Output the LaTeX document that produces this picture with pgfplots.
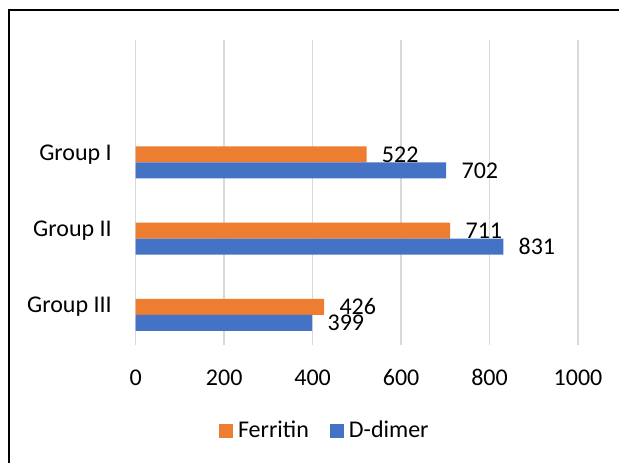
\documentclass[border=0pt]{standalone}
\usepackage{pgfplots}
\pgfplotsset{compat=1.18}
\usepackage{fontspec}
\setmainfont{Carlito}
\definecolor{ferr}{HTML}{ED7D31}
\definecolor{ddim}{HTML}{4472C4}
\definecolor{gridc}{HTML}{D9D9D9}
\begin{document}
\fontsize{12}{14.4}\selectfont
\begin{tikzpicture}
\useasboundingbox (0,0) rectangle (309.5pt,231pt);
\clip (0,0) rectangle (309.5pt,231pt);
\fill[white] (0,0) rectangle (309.5pt,231pt);
\draw[black, line width=0.8pt] (4.5pt,-20pt) -- (4.5pt,226pt) -- (330pt,226pt);
\begin{axis}[
  at={(67.85pt,58.5pt)}, anchor=south west,
  scale only axis, width=221.15pt, height=152.5pt,
  xmin=0, xmax=1000, ymin=-0.5, ymax=3.5,
  xtick={0,200,...,1000}, ytick={0,1,2},
  yticklabels={Group III,Group II,Group I},
  xmajorgrids, grid style={draw=gridc, line width=0.75pt},
  axis line style={draw=none}, major tick style={draw=none},
  /pgf/number format/assume math mode=true,
  /pgf/number format/1000 sep={},
  xticklabel style={anchor=base, yshift=-20pt},
  yticklabel style={anchor=east, inner sep=0pt, xshift=-7.5pt},
  xbar, bar width=0.21,
  nodes near coords,
  nodes near coords style={anchor=west, inner sep=0pt, xshift=7.5pt, black},
  legend columns=2,
  legend style={draw=none, at={(0.431,-0.282)}, anchor=center, fill=none,
    /tikz/every even column/.append style={column sep=8pt},
    nodes={inner sep=2.5pt}},
  legend image code/.code={\fill[#1] (0pt,-3.5pt) rectangle (7pt,3.5pt);},
]
\addplot[fill=ferr, draw=none, bar shift=0] coordinates {(426,0) (711,1) (522,2)};
\addlegendentry{Ferritin}
\addplot[fill=ddim, draw=none, bar shift=-0.21] coordinates {(399,0) (831,1) (702,2)};
\addlegendentry{D-dimer}
\end{axis}
\end{tikzpicture}
\end{document}
